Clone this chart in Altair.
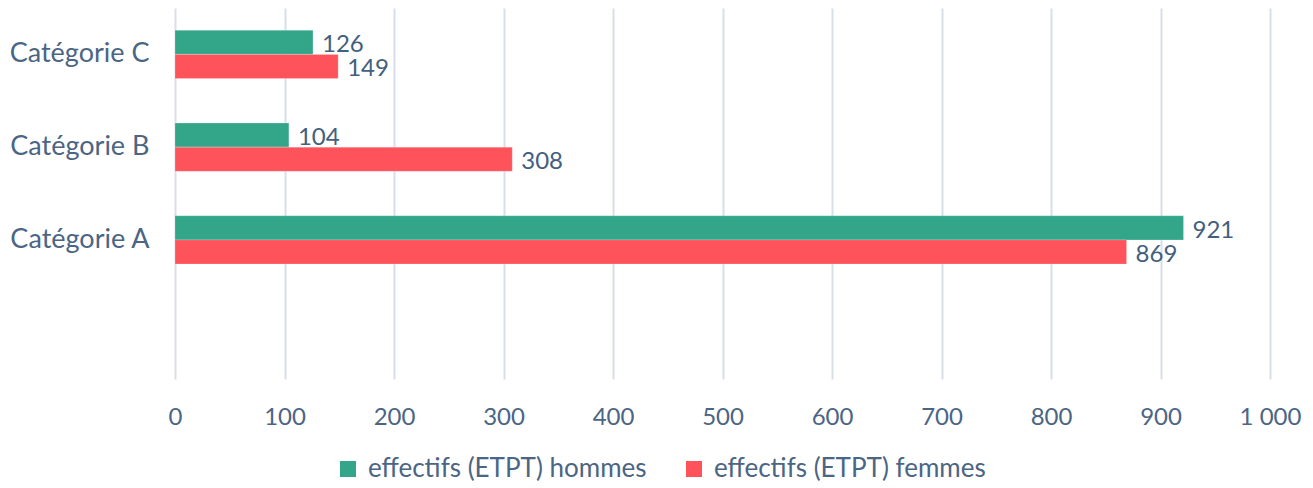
import altair as alt
import pandas as pd

categories = ["Catégorie C", "Catégorie B", "Catégorie A"]
series = ["effectifs (ETPT) hommes", "effectifs (ETPT) femmes"]
hommes = [126, 104, 921]
femmes = [149, 308, 869]
colors = ["#33A68A", "#FF535C"]

rows = []
for c, h, f in zip(categories, hommes, femmes):
    rows.append({"cat": c, "serie": series[0], "val": h})
    rows.append({"cat": c, "serie": series[1], "val": f})
df = pd.DataFrame(rows)

FONT = "Lato"
TXT = "#4b6584"

y_dom = categories + [" "]

base = alt.Chart(df).encode(
    y=alt.Y("cat:N", scale=alt.Scale(domain=y_dom, paddingInner=0.48, paddingOuter=0.24),
            axis=alt.Axis(title=None, ticks=False, domain=False, grid=False,
                          labelFontSize=27, labelColor=TXT, labelFont=FONT, labelPadding=26)),
    yOffset=alt.YOffset("serie:N", scale=alt.Scale(domain=series, paddingInner=0, paddingOuter=0)),
)

xscale = alt.Scale(domain=[0, 1000], nice=False)
xaxis = alt.Axis(title=None, values=list(range(0, 1001, 100)), ticks=False, domain=False,
                 grid=True, gridColor="#D7E0EA", gridWidth=2, labelFlush=False,
                 labelFontSize=24, labelColor=TXT, labelFont=FONT, labelPadding=26,
                 labelExpr="replace(format(datum.value, ',d'), ',', ' ')")

bars = base.mark_bar(stroke="white", strokeWidth=0.5, strokeOpacity=0.4).encode(
    x=alt.X("val:Q", scale=xscale, axis=xaxis),
    color=alt.Color("serie:N", scale=alt.Scale(domain=series, range=colors),
                    legend=alt.Legend(title=None, orient="none", direction="horizontal",
                                      legendX=160, legendY=448,
                                      symbolType="square", symbolSize=256, symbolStrokeWidth=0,
                                      labelFontSize=26, labelColor=TXT, labelFont=FONT,
                                      labelLimit=0, columnPadding=34, labelOffset=7)),
)

labels = base.mark_text(align="left", baseline="middle", dx=9, dy=3, fontSize=24,
                        font=FONT, color="#42607E").encode(
    x=alt.X("val:Q", scale=xscale, axis=xaxis),
    text="val:Q",
)

chart = alt.layer(bars, labels).properties(
    width=1095, height=371,
    padding={"left": 167, "top": 0, "right": 35, "bottom": 108},
    autosize=alt.AutoSizeParams(type="none"),
).configure(font=FONT).configure_view(stroke="transparent", strokeWidth=0).configure_axis(
    domain=False, ticks=False
)

chart.save("out.html", embed_options={"renderer": "svg", "actions": False})
